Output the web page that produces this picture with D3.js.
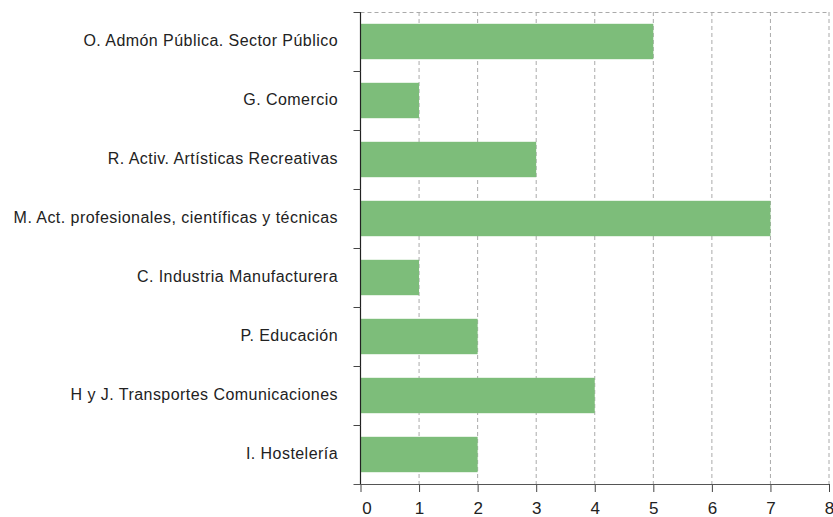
<!DOCTYPE html>
<html>
<head>
<meta charset="utf-8">
<script src="https://cdn.jsdelivr.net/npm/d3@7"></script>
<style>
  body { margin: 0; background: #fff; }
  svg { display: block; font-family: "Liberation Sans", Arial, sans-serif; }
  .cat-label { font-size: 16px; fill: #222; letter-spacing: 0.45px; }
  .x-axis text { font-size: 17px; fill: #222; font-family: "Liberation Sans", Arial, sans-serif; }
</style>
</head>
<body>
<svg id="chart" width="833" height="517"></svg>
<script>
// categories top to bottom
const categories = [
    "O. Admón Pública. Sector Público",
    "G. Comercio",
    "R. Activ. Artísticas Recreativas",
    "M. Act. profesionales, científicas y técnicas",
    "C. Industria Manufacturera",
    "P. Educación",
    "H y J. Transportes Comunicaciones",
    "I. Hostelería"
];
const values = [5, 1, 3, 7, 1, 2, 4, 2];
const xTicks = [0, 1, 2, 3, 4, 5, 6, 7, 8];

const svg = d3.select("#chart");

//margins
let plotLeft = 360.5;
let plotRight = 829;
let plotTop = 12;
let plotBottom = 484;

//scales
let x = d3.scaleLinear()
    .domain([0, 8])
    .range([plotLeft, plotRight]);

let y = d3.scaleBand()
    .domain(categories)
    .range([plotTop, plotBottom])
    .paddingInner(0.4)
    .paddingOuter(0.2);

// grid lines
svg.append("g")
    .selectAll("line")
    .data(xTicks.slice(1))
    .join("line")
    .attr("x1", d => x(d))
    .attr("x2", d => x(d))
    .attr("y1", plotTop)
    .attr("y2", plotBottom)
    .attr("stroke", "#aaa")
    .attr("stroke-dasharray", "4,3");

svg.append("line")
    .attr("x1", plotLeft)
    .attr("x2", plotRight)
    .attr("y1", plotTop + 0.5)
    .attr("y2", plotTop + 0.5)
    .attr("stroke", "#aaa")
    .attr("stroke-dasharray", "4,3");

// bars
svg.append("g")
    .selectAll("rect")
    .data(values)
    .join("rect")
    .attr("x", x(0))
    .attr("y", (d, i) => y(categories[i]))
    .attr("width", d => x(d) - x(0))
    .attr("height", y.bandwidth())
    .attr("fill", "#7dbd7a");

// category labels
svg.append("g")
    .selectAll("text")
    .data(categories)
    .join("text")
    .attr("class", "cat-label")
    .attr("x", 338)
    .attr("y", d => y(d) + y.bandwidth() / 2 - 1.5)
    .attr("dy", "0.35em")
    .attr("text-anchor", "end")
    .text(d => d);

// y axis line and boundary ticks
svg.append("line")
    .attr("x1", plotLeft)
    .attr("x2", plotLeft)
    .attr("y1", plotTop)
    .attr("y2", plotBottom)
    .attr("stroke", "#222")
    .attr("stroke-width", 1.2);

let step = (plotBottom - plotTop) / categories.length;
svg.append("g")
    .selectAll("line")
    .data(d3.range(categories.length))
    .join("line")
    .attr("x1", plotLeft - 7)
    .attr("x2", plotLeft)
    .attr("y1", d => plotTop + d * step + 0.5)
    .attr("y2", d => plotTop + d * step + 0.5)
    .attr("stroke", "#444");

// x axis
let xAxis = svg.append("g")
    .attr("class", "x-axis")
    .attr("transform", "translate(0," + plotBottom + ")")
    .call(d3.axisBottom(x).tickValues(xTicks).tickSize(8).tickPadding(10).tickSizeOuter(0));
xAxis.select(".domain").remove();
xAxis.selectAll("line").attr("stroke", "#444");
// zero label sits a bit right of its tick
xAxis.selectAll(".tick text").filter(d => d === 0).attr("dx", 6);
xAxis.append("line")
    .attr("x1", plotLeft - 7)
    .attr("x2", plotRight)
    .attr("y1", 0.5)
    .attr("y2", 0.5)
    .attr("stroke", "#555")
    .attr("stroke-width", 1.2);
</script>
</body>
</html>
